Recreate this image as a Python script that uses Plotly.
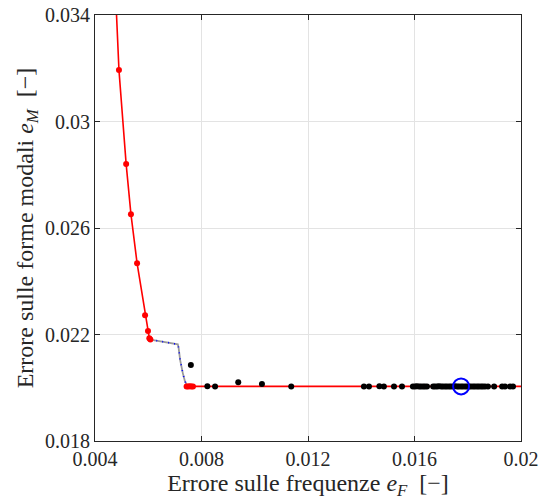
import plotly.graph_objects as go

# Pareto front (red): upper branch and horizontal lower branch
front_upper_x = [0.00472, 0.00490, 0.00517, 0.00535, 0.00558, 0.00588, 0.00599, 0.00604, 0.00608]
front_upper_y = [0.03600, 0.03193, 0.02840, 0.02652, 0.02468, 0.02272, 0.02213, 0.02186, 0.02181]
front_lower_x = [0.00744, 0.00750, 0.00756, 0.00762, 0.00768, 0.02010]
front_lower_y = [0.02005, 0.02005, 0.02006, 0.02005, 0.02005, 0.02005]

# Red markers on the front
front_pts_x = [0.00490, 0.00517, 0.00535, 0.00558, 0.00588, 0.00599, 0.00604, 0.00608,
               0.00744, 0.00750, 0.00756, 0.00762, 0.00768]
front_pts_y = [0.03193, 0.02840, 0.02652, 0.02468, 0.02272, 0.02213, 0.02186, 0.02181,
               0.02005, 0.02005, 0.02006, 0.02005, 0.02005]

# Transition path between the two branches (gray with blue dots)
path_x = [0.00608, 0.00700, 0.00711, 0.00714, 0.00720, 0.00730, 0.00738, 0.00746]
path_y = [0.02181, 0.02165, 0.02163, 0.02150, 0.02103, 0.02054, 0.02024, 0.02009]

# Other evaluated solutions (black)
sol_x = [0.00760, 0.00822, 0.00851, 0.00938, 0.01027, 0.01137,
         0.01410, 0.01429, 0.01468, 0.01485, 0.01523, 0.01553,
         0.01594, 0.01602, 0.01609, 0.01617, 0.01624, 0.01632, 0.01639, 0.01647,
         0.01670, 0.01677, 0.01685, 0.01692, 0.01700, 0.01707, 0.01715, 0.01722,
         0.01730, 0.01737, 0.01745, 0.01752, 0.01760, 0.01767, 0.01775, 0.01782,
         0.01790, 0.01797, 0.01805, 0.01812, 0.01820, 0.01827, 0.01835, 0.01842,
         0.01850, 0.01857, 0.01865, 0.01876, 0.01899, 0.01929, 0.01940, 0.01959, 0.01970]
sol_y = [0.02085, 0.02006, 0.02005, 0.02021, 0.02014, 0.02005,
         0.02005, 0.02005, 0.02006, 0.02005, 0.02005, 0.02005,
         0.02005, 0.02005, 0.02006, 0.02005, 0.02005, 0.02005, 0.02005, 0.02005,
         0.02005, 0.02005, 0.02005, 0.02006, 0.02005, 0.02005, 0.02005, 0.02005,
         0.02005, 0.02005, 0.02005, 0.02006, 0.02005, 0.02005, 0.02005, 0.02005,
         0.02005, 0.02005, 0.02005, 0.02005, 0.02005, 0.02005, 0.02005, 0.02005,
         0.02005, 0.02005, 0.02005, 0.02005, 0.02005, 0.02005, 0.02005, 0.02005, 0.02005]

# Selected solution
sel_x = [0.01775]
sel_y = [0.02005]

x_ticks = [0.004, 0.008, 0.012, 0.016, 0.02]
x_labels = ["0.004", "0.008", "0.012", "0.016", "0.02"]
y_ticks = [0.018, 0.022, 0.026, 0.030, 0.034]
y_labels = ["0.018", "0.022", "0.026", "0.03", "0.034"]

FONT = "Liberation Serif"
AX = "#262626"

fig = go.Figure()

fig.add_trace(go.Scatter(
    x=front_upper_x + [None] + front_lower_x,
    y=front_upper_y + [None] + front_lower_y,
    mode="lines", line=dict(color="#ff0000", width=1.6),
    connectgaps=False, hoverinfo="skip"))

fig.add_trace(go.Scatter(
    x=path_x, y=path_y, mode="lines",
    line=dict(color="#9a9a9a", width=1.8), hoverinfo="skip"))
fig.add_trace(go.Scatter(
    x=path_x, y=path_y, mode="lines",
    line=dict(color="#0000ff", width=1.6, dash="1px,5px"), hoverinfo="skip"))

fig.add_trace(go.Scatter(
    x=sol_x, y=sol_y, mode="markers",
    marker=dict(color="#000000", size=6, line=dict(width=0))))

fig.add_trace(go.Scatter(
    x=front_pts_x, y=front_pts_y, mode="markers",
    marker=dict(color="#ff0000", size=6, line=dict(width=0))))

fig.add_trace(go.Scatter(
    x=sel_x, y=sel_y, mode="markers",
    marker=dict(symbol="circle-open", color="#0000ff", size=16,
                line=dict(width=2, color="#0000ff"))))

axis_common = dict(
    automargin=False,
    showgrid=True, gridcolor="#e3e3e3", gridwidth=1,
    zeroline=False, showline=True, linecolor=AX, linewidth=1.2,
    mirror="allticks", ticks="inside", ticklen=5, tickcolor=AX, tickwidth=1.2,
    tickfont=dict(family=FONT, size=20, color="#262626"),
)

fig.update_xaxes(
    range=[0.004, 0.02], tickvals=x_ticks, ticktext=x_labels,
    title=dict(text="Errore sulle frequenze <i>e<sub>F</sub></i>  [\u2212]",
               font=dict(family=FONT, size=24, color="#262626"), standoff=4),
    **axis_common)
fig.update_yaxes(
    range=[0.018, 0.034], tickvals=y_ticks, ticktext=y_labels,
    title=dict(text="Errore sulle forme modali <i>e<sub>M</sub></i>  [\u2212]",
               font=dict(family=FONT, size=24, color="#262626"), standoff=4),
    **axis_common)

fig.update_layout(
    width=546, height=502,
    margin=dict(l=95, r=25, t=15, b=61),
    paper_bgcolor="white", plot_bgcolor="white",
    showlegend=False,
)

fig.write_html("out.html")
